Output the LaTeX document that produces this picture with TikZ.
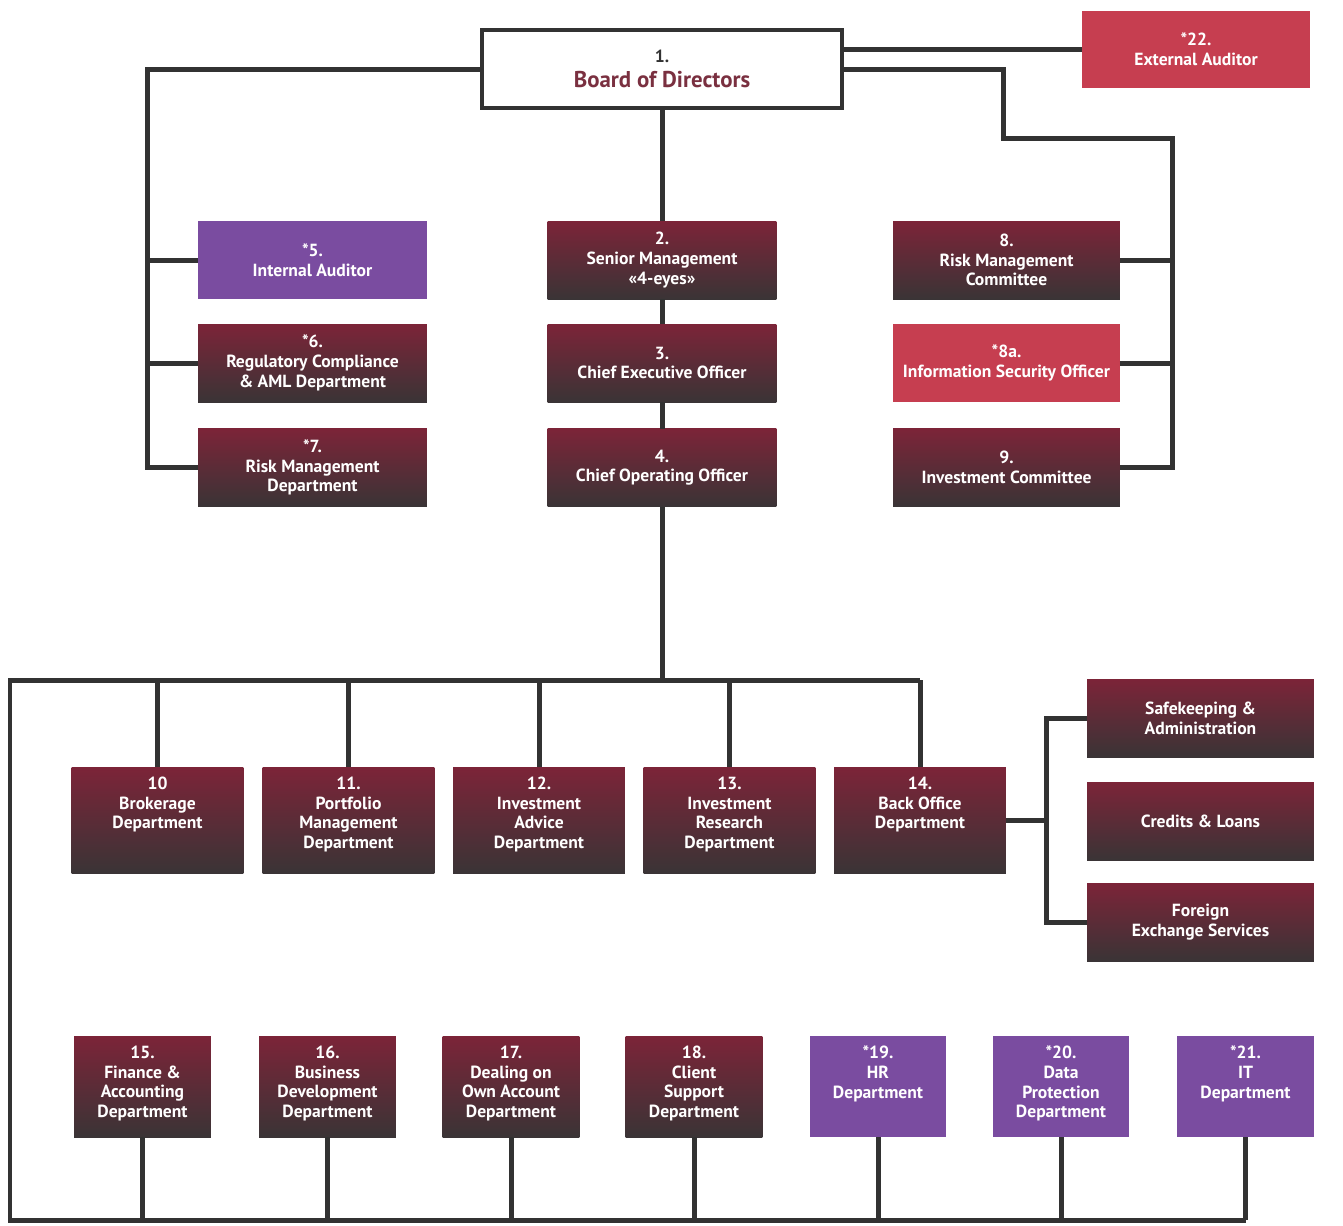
\documentclass[tikz,border=0pt]{standalone}
\usepackage{fontspec}
\setmainfont{PT Sans}
\usepackage{tikz}

\definecolor{deptop}{RGB}{124,36,56}
\definecolor{depbot}{RGB}{58,52,54}
\definecolor{auditviolet}{RGB}{122,76,160}
\definecolor{auditred}{RGB}{198,62,80}
\definecolor{boardred}{RGB}{122,48,64}
\definecolor{linkgray}{RGB}{50,50,50}

\newcommand{\toplines}[3]{\parbox[c][#1][t]{#2}{\centering\vspace*{0.2cm}#3}}

\tikzset{
	orgbox/.style={rectangle, text=white, align=center, inner sep=0pt, outer sep=0pt,
		font=\bfseries\fontsize{10}{11.2}\selectfont},
	maroonbox/.style={orgbox, top color=deptop, bottom color=depbot},
	violetbox/.style={orgbox, fill=auditviolet},
	redbox/.style={orgbox, fill=auditred},
	upperbox/.style={minimum width=4.58cm, minimum height=1.56cm},
	rowbox/.style={minimum width=3.44cm, minimum height=2.12cm},
	lowbox/.style={minimum width=2.74cm, minimum height=2.02cm},
	link/.style={draw=linkgray, line width=0.1cm}
}

\begin{document}
\begin{tikzpicture}[x=0.02cm, y=-0.02cm]
		%%%%% START %%%%%
		\useasboundingbox (0, 0) rectangle (1343, 1225);
		
		\node[orgbox, draw=linkgray, line width=0.08cm, fill=white, text=linkgray, minimum width=7.2cm, minimum height=1.56cm] (board) at (662, 69) {1.\\[0.1cm]{\color{boardred}\fontsize{13}{16}\selectfont Board of Directors}};
		\node[redbox, upperbox] (extaud) at (1196, 49.5) {*22.\\External Auditor};
		
		\node[violetbox, upperbox] (intaud) at (312.5, 260) {*5.\\Internal Auditor};
		\node[maroonbox, upperbox] (regcomp) at (312.5, 363) {*6.\\Regulatory Compliance\\\& AML Department};
		\node[maroonbox, upperbox] (riskdep) at (312.5, 467.5) {*7.\\Risk Management\\Department};
		
		\node[maroonbox, upperbox] (senmgmt) at (662, 260) {2.\\Senior Management\\«4-eyes»};
		\node[maroonbox, upperbox] (ceo) at (662, 363) {3.\\Chief Executive Officer};
		\node[maroonbox, upperbox] (coo) at (662, 467.5) {4.\\Chief Operating Officer};
		
		\node[maroonbox, upperbox, minimum width=4.54cm] (riskcom) at (1006.5, 260) {8.\\Risk Management\\Committee};
		\node[redbox, upperbox, minimum width=4.54cm] (infosec) at (1006.5, 363) {*8a.\\Information Security Officer};
		\node[maroonbox, upperbox, minimum width=4.54cm] (invcom) at (1006.5, 467.5) {9.\\Investment Committee};
		
		\node[maroonbox, rowbox] (brokerage) at (157.5, 820) {\toplines{2.12cm}{3.3cm}{10\\Brokerage\\Department}};
		\node[maroonbox, rowbox] (portfolio) at (348.5, 820) {\toplines{2.12cm}{3.3cm}{11.\\Portfolio\\Management\\Department}};
		\node[maroonbox, rowbox] (invadvice) at (539, 820) {\toplines{2.12cm}{3.3cm}{12.\\Investment\\Advice\\Department}};
		\node[maroonbox, rowbox] (invresearch) at (729.5, 820) {\toplines{2.12cm}{3.3cm}{13.\\Investment\\Research\\Department}};
		\node[maroonbox, rowbox] (backoffice) at (920, 820) {\toplines{2.12cm}{3.3cm}{14.\\Back Office\\Department}};
		
		\node[maroonbox, upperbox, minimum width=4.54cm] (safekeep) at (1200.5, 718) {Safekeeping \&\\Administration};
		\node[maroonbox, upperbox, minimum width=4.54cm] (credits) at (1200.5, 821) {Credits \& Loans};
		\node[maroonbox, upperbox, minimum width=4.54cm] (forex) at (1200.5, 922) {Foreign\\Exchange Services};
		
		\node[maroonbox, lowbox] (finance) at (142.5, 1086.5) {\toplines{2.02cm}{2.6cm}{15.\\Finance \&\\Accounting\\Department}};
		\node[maroonbox, lowbox] (busdev) at (327.5, 1086.5) {\toplines{2.02cm}{2.6cm}{16.\\Business\\Development\\Department}};
		\node[maroonbox, lowbox] (dealing) at (511, 1086.5) {\toplines{2.02cm}{2.6cm}{17.\\Dealing on\\Own Account\\Department}};
		\node[maroonbox, lowbox] (clientsup) at (694, 1086.5) {\toplines{2.02cm}{2.6cm}{18.\\Client\\Support\\Department}};
		\node[violetbox, lowbox] (hrdep) at (878, 1086.5) {\toplines{2.02cm}{2.6cm}{*19.\\HR\\Department}};
		\node[violetbox, lowbox] (dataprot) at (1061, 1086.5) {\toplines{2.02cm}{2.6cm}{*20.\\Data\\Protection\\Department}};
		\node[violetbox, lowbox] (itdep) at (1245.5, 1086.5) {\toplines{2.02cm}{2.6cm}{*21.\\IT\\Department}};
		
		\coordinate (lspine) at (147, 0);
		\coordinate (rjog) at (1003, 138);
		\coordinate (rspine) at (1172, 138);
		\coordinate (bus) at (10, 680);
		\coordinate (bspine) at (1046, 0);
		\coordinate (base) at (10, 1220);
		
		% board links
		\draw[link] (board.east |- extaud.west) -- (extaud.west);
		\draw[link] (board.west) -| (lspine |- riskdep.west) -- (riskdep.west);
		\draw[link] (intaud.west) -- (intaud.west -| lspine);
		\draw[link] (regcomp.west) -- (regcomp.west -| lspine);
		\draw[link] (board.east) -| (rjog) -| (rspine |- invcom.east) -- (invcom.east);
		\draw[link] (riskcom.east) -- (riskcom.east -| rspine);
		\draw[link] (infosec.east) -- (infosec.east -| rspine);
		\draw[link] (board.south) -- (senmgmt.north);
		\draw[link] (senmgmt.south) -- (ceo.north);
		\draw[link] (ceo.south) -- (coo.north);
		\draw[link] (coo.south) -- (coo.south |- bus);
		
		% departments
		\draw[link] (base -| itdep.south) -- (base) -- (bus) -- (bus -| backoffice.north);
		\foreach \dep in {brokerage, portfolio, invadvice, invresearch, backoffice}
			\draw[link] (\dep.north) -- (\dep.north |- bus);
		\foreach \dep in {finance, busdev, dealing, clientsup, hrdep, dataprot, itdep}
			\draw[link] (\dep.south) -- (\dep.south |- base);
		\draw[link] (backoffice.east) -- (backoffice.east -| bspine);
		\draw[link] (safekeep.west) -| (bspine |- forex.west) -- (forex.west);
		
		%%%%% END %%%%%
	\end{tikzpicture}
\end{document}
